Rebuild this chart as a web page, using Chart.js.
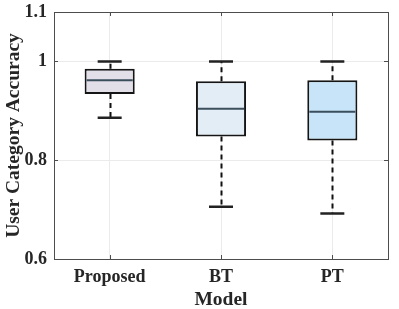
<!DOCTYPE html>
<html>
<head>
<meta charset="utf-8">
<script src="https://cdn.jsdelivr.net/npm/chart.js@4/dist/chart.umd.min.js"></script>
<style>
html,body{margin:0;padding:0;background:#fff;}
#wrap{width:399px;height:309px;}
</style>
</head>
<body>
<div id="wrap"><canvas id="c" width="399" height="309"></canvas></div>
<script>
const categories = ['Proposed', 'BT', 'PT'];
const whiskerLow  = [0.886, 0.706, 0.692];
const quartile1   = [0.934, 0.848, 0.840];
const medians     = [0.962, 0.904, 0.898];
const quartile3   = [0.985, 0.960, 0.962];
const whiskerHigh = [1.000, 1.000, 1.000];
const yTicks = [0.6, 0.8, 1, 1.1];
const boxColors = ['#e2dfe8', '#e3edf5', '#c8e4f8'];

const boxPlugin = {
  id: 'boxPlugin',
  beforeDatasetsDraw(chart) {
    const ctx = chart.ctx, y = chart.scales.y;
    const meta = chart.getDatasetMeta(0);
    ctx.save();
    ctx.strokeStyle = '#111';
    ctx.lineWidth = 2;
    ctx.setLineDash([5, 4]);
    meta.data.forEach((bar, i) => {
      const x = Math.round(bar.x) + 0.5;
      ctx.beginPath();
      ctx.moveTo(x, y.getPixelForValue(quartile3[i]));
      ctx.lineTo(x, y.getPixelForValue(whiskerHigh[i]));
      ctx.moveTo(x, y.getPixelForValue(quartile1[i]));
      ctx.lineTo(x, y.getPixelForValue(whiskerLow[i]));
      ctx.stroke();
    });
    ctx.restore();
  },
  afterDatasetsDraw(chart) {
    const ctx = chart.ctx, y = chart.scales.y, a = chart.chartArea;
    const meta = chart.getDatasetMeta(0);
    ctx.save();
    meta.data.forEach((bar, i) => {
      const x = bar.x, w = bar.width;
      ctx.strokeStyle = '#222';
      ctx.lineWidth = 2.5;
      ctx.setLineDash([]);
      ctx.beginPath();
      const yh = y.getPixelForValue(whiskerHigh[i]);
      const yl = y.getPixelForValue(whiskerLow[i]);
      ctx.moveTo(x - 12, yh); ctx.lineTo(x + 12, yh);
      ctx.moveTo(x - 12, yl); ctx.lineTo(x + 12, yl);
      ctx.stroke();
      ctx.strokeStyle = '#3b4e5c';
      ctx.lineWidth = 2;
      const ym = y.getPixelForValue(medians[i]);
      ctx.beginPath();
      ctx.moveTo(x - w / 2 + 2, ym); ctx.lineTo(x + w / 2 - 2, ym);
      ctx.stroke();
    });
    ctx.strokeStyle = '#4d4d4d';
    ctx.lineWidth = 1;
    ctx.strokeRect(Math.round(a.left) + 0.5, Math.round(a.top) + 0.5, Math.round(a.right - a.left), Math.round(a.bottom - a.top));
    ctx.beginPath();
    yTicks.forEach(v => {
      const py = Math.round(y.getPixelForValue(v)) + 0.5;
      ctx.moveTo(a.left, py); ctx.lineTo(a.left + 4, py);
      ctx.moveTo(a.right, py); ctx.lineTo(a.right - 4, py);
    });
    meta.data.forEach(bar => {
      const px = Math.round(bar.x) + 0.5;
      ctx.moveTo(px, a.bottom); ctx.lineTo(px, a.bottom - 4);
      ctx.moveTo(px, a.top); ctx.lineTo(px, a.top + 4);
    });
    ctx.stroke();
    ctx.restore();
  }
};

new Chart(document.getElementById('c'), {
  type: 'bar',
  data: {
    labels: categories,
    datasets: [{
      data: categories.map((c, i) => [quartile1[i], quartile3[i]]),
      backgroundColor: boxColors,
      borderColor: '#151515',
      borderWidth: 2,
      borderSkipped: false,
      categoryPercentage: 1,
      barPercentage: 0.45
    }]
  },
  options: {
    responsive: false,
    animation: false,
    devicePixelRatio: 1,
    layout: { padding: { left: 0, right: 11, top: 12, bottom: 0 } },
    plugins: { legend: { display: false }, tooltip: { enabled: false } },
    scales: {
      x: {
        offset: true,
        grid: { offset: false, color: '#ebebeb', drawTicks: false },
        border: { display: false },
        ticks: { color: '#262626', padding: 8, font: { family: 'Liberation Serif', size: 18, weight: 'bold' } },
        title: { display: true, text: 'Model', color: '#262626', padding: { top: 0, bottom: -3 },
                 font: { family: 'Liberation Serif', size: 19.5, weight: 'bold' } },
        afterFit(s) { s.height = 50; s.paddingLeft = 0; s.paddingRight = 0; }
      },
      y: {
        min: 0.6, max: 1.1,
        grid: { color: '#ebebeb', drawTicks: false },
        border: { display: false },
        afterBuildTicks(s) { s.ticks = yTicks.map(v => ({ value: v })); },
        ticks: { color: '#262626', padding: 7, callback: v => String(v),
                 font: { family: 'Liberation Serif', size: 18, weight: 'bold' } },
        title: { display: true, text: 'User Category Accuracy', color: '#262626', padding: { top: 2, bottom: 0 },
                 font: { family: 'Liberation Serif', size: 19.5, weight: 'bold' } },
        afterFit(s) { s.width = 54; s.paddingTop = 0; s.paddingBottom = 0; }
      }
    }
  },
  plugins: [boxPlugin]
});
</script>
</body>
</html>
